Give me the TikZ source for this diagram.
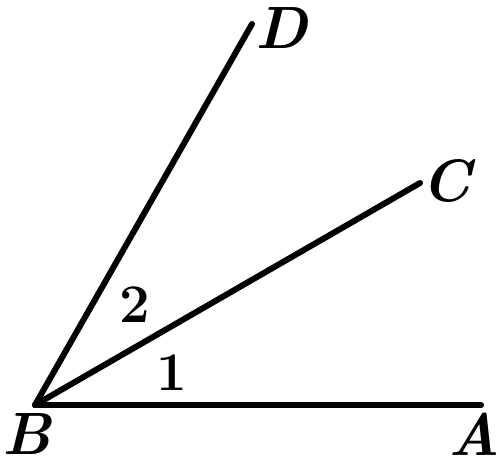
\documentclass[tikz,border=0pt]{standalone}
\usepackage{tikz}

\begin{document}
\begin{tikzpicture}[x=0.02cm,y=-0.02cm,
  ray/.style={line width=3.4pt,line cap=round},
  pointlabel/.style={font=\fontsize{34}{38}\selectfont\bfseries\itshape,inner sep=0pt},
  anglelabel/.style={font=\fontsize{31}{34}\selectfont\bfseries,inner sep=0pt}]
\useasboundingbox (0,0) rectangle (500,466);
\coordinate (B) at (35,405);
\coordinate (A) at (481,405);
\coordinate (C) at (420,183);
\coordinate (D) at (252,24);
\draw[ray] (B) -- (A);
\draw[ray] (B) -- (C);
\draw[ray] (B) -- (D);
\node[pointlabel] (lD) at (282,28) {D};
\node[pointlabel] (lC) at (446,181) {C};
\node[pointlabel] (lB) at (27,434) {B};
\node[pointlabel] (lA) at (474,434) {A};
\node[anglelabel] (n2) at (135,305) {2};
\node[anglelabel] (n1) at (172,373) {1};
\end{tikzpicture}
\end{document}
